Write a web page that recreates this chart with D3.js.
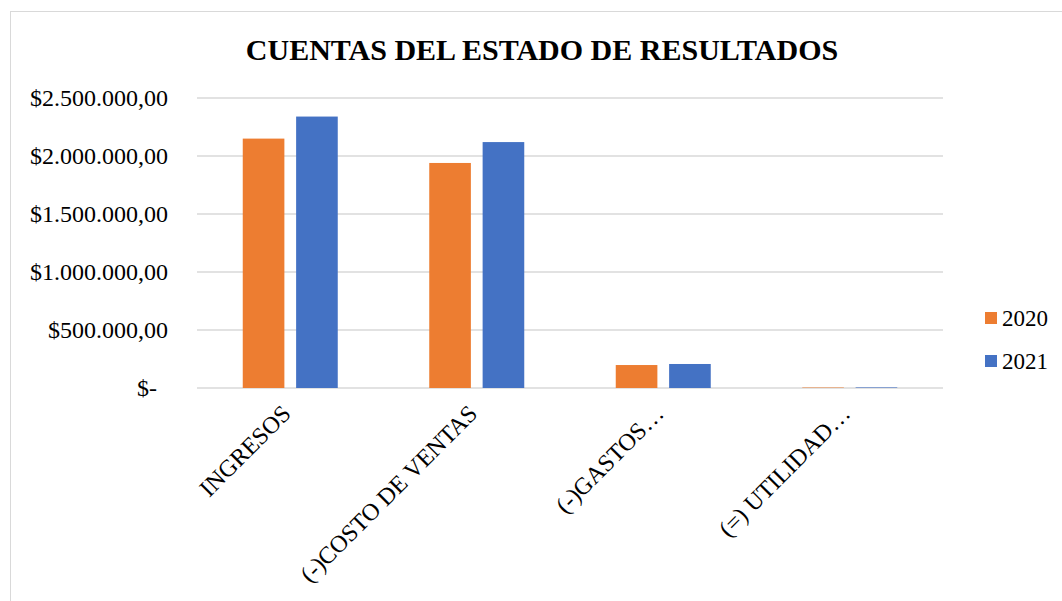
<!DOCTYPE html>
<html>
<head>
<meta charset="utf-8">
<script src="https://cdn.jsdelivr.net/npm/d3@7"></script>
<style>
  body { margin: 0; background: #fff; }
  text { font-family: "Liberation Serif", "Times New Roman", serif; fill: #000; }
</style>
</head>
<body>
<div class="chart"></div>
<script>
// Cuentas del estado de resultados (grouped bars)

var categories = ["INGRESOS", "(-)COSTO DE VENTAS", "(-)GASTOS…", "(=) UTILIDAD…"];
var seriesNames = ["2020", "2021"];
var values2020 = [2150000, 1940000, 198000, 4000];
var values2021 = [2340000, 2120000, 207000, 5000];
var yTicks = [0, 500000, 1000000, 1500000, 2000000, 2500000];
var colors = ["#ed7d31", "#4472c4"];

var svgWidth = 1062;
var svgHeight = 601;

var margin = { top: 98, right: 119, bottom: 213, left: 197 };
var plotWidth = svgWidth - margin.left - margin.right;
var plotHeight = svgHeight - margin.top - margin.bottom;

var svg = d3.select(".chart")
    .append("svg")
    .attr("width", svgWidth)
    .attr("height", svgHeight);

// chart frame
svg.append("rect")
    .attr("x", 10.5).attr("y", 11.5)
    .attr("width", 1062).attr("height", 620)
    .attr("fill", "none")
    .attr("stroke", "#d9d9d9");

svg.append("text")
    .attr("x", 542).attr("y", 60)
    .attr("text-anchor", "middle")
    .attr("font-size", 30)
    .attr("font-weight", "bold")
    .text("CUENTAS DEL ESTADO DE RESULTADOS");

var chartGroup = svg.append("g")
    .attr("transform", `translate(${margin.left}, ${margin.top})`);

var xScale = d3.scaleBand()
    .domain(categories)
    .range([0, plotWidth]);

var xInner = d3.scaleBand()
    .domain(seriesNames)
    .range([0, 95])
    .paddingInner(0.22);

var yScale = d3.scaleLinear()
    .domain([0, 2500000])
    .range([plotHeight, 0]);

function money(v) {
    if (v === 0) return "$-";
    var s = d3.format(",.2f")(v);
    s = s.replace(/,/g, "#").replace(".", ",").replace(/#/g, ".");
    return "$" + s;
}

// gridlines
chartGroup.append("g")
    .selectAll("line")
    .data(yTicks)
    .enter()
    .append("line")
    .attr("x1", 0).attr("x2", plotWidth)
    .attr("y1", d => yScale(d)).attr("y2", d => yScale(d))
    .attr("stroke", "#d9d9d9")
    .attr("stroke-width", 1.5);

// y axis labels
var yAxis = d3.axisLeft(yScale)
    .tickValues(yTicks)
    .tickFormat(money)
    .tickSize(0)
    .tickPadding(29);

chartGroup.append("g")
    .call(yAxis)
    .call(g => g.select(".domain").remove())
    .selectAll("text")
    .attr("font-size", 24)
    .attr("dy", "0.3em")
    .attr("dx", d => d === 0 ? -11 : 0);

// bars
var data = categories.map(function(c, i) {
    return { cat: c, vals: [values2020[i], values2021[i]] };
});

var groups = chartGroup.selectAll(".grp")
    .data(data)
    .enter()
    .append("g")
    .attr("transform", d => `translate(${xScale(d.cat) + (xScale.bandwidth() - 95) / 2}, 0)`);

groups.selectAll("rect")
    .data(d => d.vals.map((v, j) => ({ name: seriesNames[j], value: v, j: j })))
    .enter()
    .append("rect")
    .attr("x", d => xInner(d.name))
    .attr("y", d => yScale(d.value))
    .attr("width", xInner.bandwidth())
    .attr("height", d => plotHeight - yScale(d.value))
    .attr("fill", d => colors[d.j]);

// x labels rotated
var xAxis = d3.axisBottom(xScale).tickSize(0).tickPadding(0);
chartGroup.append("g")
    .attr("transform", `translate(0, ${plotHeight})`)
    .call(xAxis)
    .call(g => g.select(".domain").remove())
    .selectAll("text")
    .attr("font-size", 24)
    .attr("text-anchor", "end")
    .attr("dy", 0)
    .attr("transform", "translate(2, 27) rotate(-45)");

// legend
var legend = svg.append("g")
    .attr("transform", "translate(985, 312)");

legend.selectAll("rect")
    .data(seriesNames)
    .enter()
    .append("rect")
    .attr("x", 0)
    .attr("y", (d, i) => i * 43)
    .attr("width", 12).attr("height", 12)
    .attr("fill", (d, i) => colors[i]);

legend.selectAll("text")
    .data(seriesNames)
    .enter()
    .append("text")
    .attr("x", 17)
    .attr("y", (d, i) => i * 43 + 14)
    .attr("font-size", 23)
    .text(d => d);
</script>
</body>
</html>
